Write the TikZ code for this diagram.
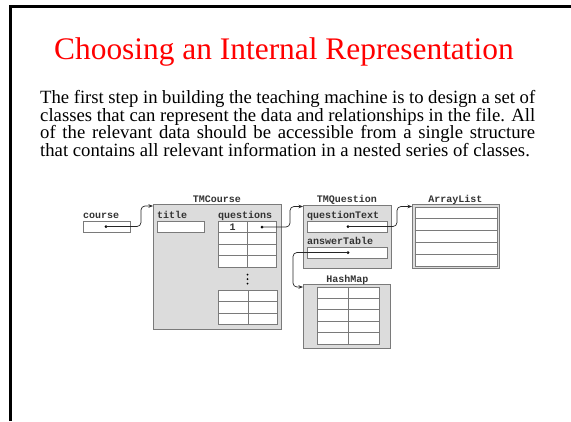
\documentclass[tikz,border=0pt]{standalone}
\usepackage{fontspec}
\setmainfont{Liberation Serif}
\setmonofont{Liberation Mono}
\usetikzlibrary{arrows.meta}
\definecolor{boxfill}{HTML}{DCDCDC}
\definecolor{boxline}{HTML}{7A7A7A}
\definecolor{slidered}{HTML}{FF0000}
\begin{document}
\begin{tikzpicture}[x=1pt,y=-1pt,
  lbl/.style={font=\ttfamily\bfseries\fontsize{10}{10}\selectfont, inner sep=0pt, text=black!80},
  cls/.style={draw=boxline, fill=boxfill, line width=0.8pt, inner sep=0pt, anchor=north west},
  fld/.style={draw=boxline, fill=white, line width=0.8pt, inner sep=0pt, anchor=north west},
  gridline/.style={draw=boxline, line width=0.7pt},
  ptr/.style={line width=0.7pt, draw=black!85, rounded corners=4pt, -{Stealth[length=4.5pt,width=3.5pt]}},
  dotn/.style={circle, fill=black, inner sep=0pt, minimum size=3pt}]

\useasboundingbox (0,0) rectangle (571,421);
\draw[line width=2.7pt] (10.3,421) -- (10.3,6.5) -- (571,6.5);

% title and text
\node[anchor=base west, inner sep=0pt, text=slidered, font=\fontsize{31.4}{36}\selectfont] (title) at (54,59) {Choosing an Internal Representation};
\node[anchor=north west, inner sep=0pt, text width=495pt, align=justify,
      font=\fontsize{18.7}{17.5}\selectfont] (para) at (40,90.5)
 {\hyphenpenalty=10000\exhyphenpenalty=10000
  The first step in building the teaching machine is to design a set of\linebreak
  classes that can represent the data and relationships in the file.  All\linebreak
  of the relevant data should be accessible from a single structure\linebreak
  that contains all relevant information in a nested series of classes.};

% course variable
\node[lbl, anchor=base west] (courselbl) at (83,218) {course};
\node[fld, minimum width=47pt, minimum height=11pt] (coursebox) at (83,221) {};
\node[dotn] (cdot) at (106,226.5) {};

% TMCourse object
\node[cls, minimum width=128pt, minimum height=125pt] (tmcourse) at (153,204) {};
\node[lbl, anchor=base] (tmcourselbl) at (217,202) {TMCourse};
\node[lbl, anchor=base west] (titlelbl) at (157,218) {title};
\node[fld, minimum width=47pt, minimum height=11pt] (titlebox) at (157,221) {};
\node[lbl, anchor=base west] (qlbl) at (218,218) {questions};
\node[fld, minimum width=58pt, minimum height=46pt] (qtab) at (218,221) {};
\draw[gridline] (247,221) -- (247,267);
\draw[gridline] (218,232.5) -- (276,232.5) (218,244) -- (276,244) (218,255.5) -- (276,255.5);
\node[lbl, anchor=base] (one) at (232.5,230.5) {1};
\node[dotn] (qdot) at (262,227) {};
\node[dotn, minimum size=2pt] (v1) at (247.5,274.5) {};
\node[dotn, minimum size=2pt] (v2) at (247.5,279) {};
\node[dotn, minimum size=2pt] (v3) at (247.5,283.5) {};
\node[fld, minimum width=59pt, minimum height=34pt] (qtab2) at (218,290) {};
\draw[gridline] (248,290) -- (248,324);
\draw[gridline] (218,301.5) -- (277,301.5) (218,313) -- (277,313);

% TMQuestion object
\node[cls, minimum width=88pt, minimum height=63pt] (tmq) at (303,205) {};
\node[lbl, anchor=base] (tmqlbl) at (347,202.5) {TMQuestion};
\node[lbl, anchor=base west] (qtlbl) at (307,218.5) {questionText};
\node[fld, minimum width=80pt, minimum height=11pt] (qtbox) at (307,221) {};
\node[dotn] (qtdot) at (348,226.5) {};
\node[lbl, anchor=base west] (atlbl) at (307,244.5) {answerTable};
\node[fld, minimum width=80pt, minimum height=11pt] (atbox) at (307,247) {};
\node[dotn] (atdot) at (348,252.5) {};

% ArrayList object
\node[cls, minimum width=87pt, minimum height=64pt] (alist) at (412,204) {};
\node[lbl, anchor=base] (alistlbl) at (455.5,202) {ArrayList};
\node[fld, minimum width=82pt, minimum height=59pt] (alin) at (414.5,207) {};
\draw[gridline] (414.5,218.8) -- (496.5,218.8) (414.5,230.6) -- (496.5,230.6)
                (414.5,242.4) -- (496.5,242.4) (414.5,254.2) -- (496.5,254.2);

% HashMap object
\node[cls, minimum width=87pt, minimum height=64pt] (hmap) at (303,284) {};
\node[lbl, anchor=base] (hmaplbl) at (347.5,282) {HashMap};
\node[fld, minimum width=62pt, minimum height=57pt] (hmin) at (317,287) {};
\draw[gridline] (348,287) -- (348,344);
\draw[gridline] (317,298.4) -- (379,298.4) (317,309.8) -- (379,309.8)
                (317,321.2) -- (379,321.2) (317,332.6) -- (379,332.6);

% pointers
\draw[ptr] (cdot.center) -- ++(35,0) |- ([yshift=-2pt]tmcourse.north west);
\draw[ptr] (qdot.center) -- ++(28,0) |- ([yshift=-1.5pt]tmq.north west);
\draw[ptr] (qtdot.center) -- ++(49,0) |- ([yshift=-2.5pt]alist.north west);
\draw[ptr] (atdot.center) -- ++(-55,0) |- ([yshift=-3pt]hmap.north west);
\end{tikzpicture}
\end{document}
